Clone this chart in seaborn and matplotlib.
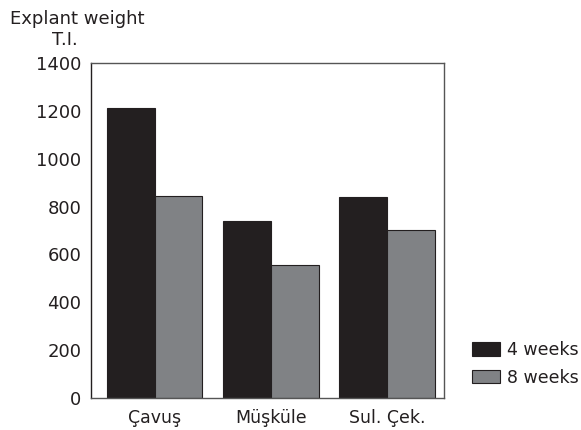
import matplotlib
matplotlib.use("Agg")
import matplotlib.pyplot as plt
import seaborn as sns
import pandas as pd

categories = ["Çavuş", "Müşküle", "Sul. Çek."]
weeks4 = [1212, 740, 840]
weeks8 = [844, 556, 702]
series_names = ["4 weeks", "8 weeks"]
yticks = [0, 200, 400, 600, 800, 1000, 1200, 1400]

df = pd.DataFrame({
    "cultivar": categories * 2,
    "value": weeks4 + weeks8,
    "period": [series_names[0]] * 3 + [series_names[1]] * 3,
})

sns.set_theme(style="white")
plt.rcParams["font.family"] = ["DejaVu Sans"]
plt.rcParams["text.color"] = "#231f20"
plt.rcParams["xtick.color"] = "#231f20"
plt.rcParams["ytick.color"] = "#231f20"

fig = plt.figure(figsize=(5.81, 4.30), dpi=100)
ax = fig.add_axes([0.1566, 0.0744, 0.6074, 0.7791])

palette = {"4 weeks": "#231f20", "8 weeks": "#808285"}
sns.barplot(data=df, x="cultivar", y="value", hue="period", palette=palette,
            width=0.82, edgecolor="#231f20", linewidth=0.8, saturation=1,
            ax=ax, legend=True)

ax.set_ylim(0, 1400)
ax.set_xlim(-0.55, 2.49)
ax.set_yticks(yticks)
ax.set_yticklabels([str(t) for t in yticks], fontsize=13)
ax.tick_params(axis="y", direction="out", length=5, width=0.8, color="#231f20", pad=2)
ax.tick_params(axis="x", length=0, labelsize=12.5, pad=8)
ax.set_xlabel("")
ax.set_ylabel("")
for s in ax.spines.values():
    s.set_visible(True)
    s.set_color("#555555")
    s.set_linewidth(1.0)
ax.spines["left"].set_color("#231f20")

leg = ax.legend(loc="upper left", bbox_to_anchor=(1.079, 0.17), frameon=False,
                fontsize=12.5, handlelength=1.6, handleheight=0.8,
                handletextpad=0.45, labelspacing=0.55, borderpad=0,
                borderaxespad=0)

fig.text(0.017, 0.955, "Explant weight", fontsize=13, ha="left", va="center")
fig.text(0.112, 0.908, "T.I.", fontsize=13, ha="center", va="center")

fig.savefig("out.png", dpi=100)
